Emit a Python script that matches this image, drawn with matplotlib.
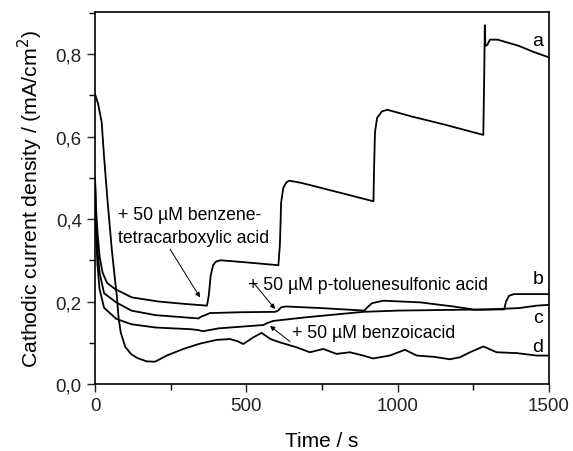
import matplotlib
matplotlib.use("Agg")
import matplotlib.pyplot as plt
from matplotlib.ticker import MultipleLocator

plt.rcParams['font.family'] = ['Liberation Sans', 'DejaVu Sans']

# curve a: benzenetetracarboxylic acid additions
t_a = [0, 3, 8, 15, 25, 40, 67, 122, 210, 300, 370, 376, 382, 390, 400, 415, 450, 530, 606,
       611, 615, 622, 632, 642, 680, 750, 830, 920, 922, 925, 932, 948, 966, 1050, 1150, 1283,
       1286, 1288, 1290, 1296, 1305, 1330, 1400, 1450, 1500]
v_a = [0.50, 0.43, 0.37, 0.31, 0.27, 0.245, 0.230, 0.210, 0.200, 0.194, 0.190, 0.215, 0.262, 0.288, 0.297, 0.300, 0.298, 0.293, 0.288,
       0.34, 0.44, 0.475, 0.489, 0.493, 0.488, 0.475, 0.46, 0.443, 0.52, 0.61, 0.645, 0.661, 0.665, 0.648, 0.63, 0.604,
       0.75, 0.870, 0.82, 0.822, 0.835, 0.835, 0.82, 0.805, 0.792]

# curve b: p-toluenesulfonic acid
t_b = [0, 3, 8, 15, 30, 70, 120, 200, 342, 350, 380, 480, 595, 605, 615, 630, 750, 890,
       900, 915, 953, 1074, 1184, 1239, 1250, 1352, 1358, 1368, 1385, 1500]
v_b = [0.50, 0.40, 0.33, 0.27, 0.22, 0.198, 0.178, 0.167, 0.159, 0.163, 0.172, 0.174, 0.175, 0.178, 0.186, 0.188, 0.184, 0.178,
       0.186, 0.196, 0.202, 0.198, 0.188, 0.182, 0.180, 0.181, 0.200, 0.214, 0.218, 0.218]

# curve c: benzoic acid
t_c = [0, 3, 8, 15, 30, 70, 120, 200, 314, 340, 357, 409, 556, 570, 589, 700, 887, 1000,
       1100, 1200, 1300, 1400, 1459, 1500]
v_c = [0.50, 0.37, 0.29, 0.23, 0.185, 0.158, 0.145, 0.137, 0.133, 0.131, 0.128, 0.135, 0.143, 0.148, 0.153, 0.162, 0.175, 0.178,
       0.179, 0.180, 0.181, 0.184, 0.190, 0.192]

# curve d: reference
t_d = [0, 10, 22, 30, 41, 55, 65, 72, 78, 85, 100, 120, 140, 170, 198, 237, 292, 347, 402, 446,
       470, 490, 523, 550, 580, 611, 666, 710, 754, 798, 842, 886, 919, 974, 1024, 1063, 1118,
       1173, 1206, 1239, 1283, 1327, 1393, 1459, 1500]
v_d = [0.703, 0.68, 0.635, 0.55, 0.448, 0.33, 0.26, 0.214, 0.16, 0.125, 0.09, 0.072, 0.063, 0.055, 0.054, 0.069, 0.085, 0.098, 0.107, 0.109,
       0.104, 0.097, 0.113, 0.124, 0.109, 0.101, 0.089, 0.077, 0.085, 0.073, 0.077, 0.069, 0.062, 0.069, 0.083, 0.069, 0.066,
       0.060, 0.065, 0.077, 0.091, 0.077, 0.075, 0.069, 0.069]

x_ticks = [0, 500, 1000, 1500]
y_ticks = [0.0, 0.2, 0.4, 0.6, 0.8]
y_labels = ['0,0', '0,2', '0,4', '0,6', '0,8']

fig = plt.figure(figsize=(5.73, 4.52), dpi=100)
ax = fig.add_axes([0.1658, 0.1482, 0.7923, 0.823])

for t, v in [(t_a, v_a), (t_b, v_b), (t_c, v_c), (t_d, v_d)]:
    ax.plot(t, v, color='black', lw=1.3)

ax.set_xlim(0, 1500)
ax.set_ylim(0, 0.902)
ax.set_xticks(x_ticks)
ax.set_yticks(y_ticks)
ax.set_yticklabels(y_labels)
ax.xaxis.set_minor_locator(MultipleLocator(250))
ax.yaxis.set_minor_locator(MultipleLocator(0.1))
ax.tick_params(which='major', direction='out', length=6, width=1, labelsize=13.5, colors='#222222')
ax.tick_params(which='minor', direction='out', length=4, width=1)
for s in ax.spines.values():
    s.set_linewidth(1.2)

ax.set_xlabel('Time / s', fontsize=15, labelpad=12)
ax.set_ylabel('Cathodic current density / (mA/cm$^2$)', fontsize=15.3, labelpad=8)

# curve labels
for lab, yv in [('a', 0.832), ('b', 0.255), ('c', 0.162), ('d', 0.092)]:
    ax.text(1464, yv, lab, fontsize=14, ha='center', va='center')

arrow = dict(arrowstyle='-|>', lw=0.7, color='black', mutation_scale=7, shrinkA=0, shrinkB=0)
ax.annotate('+ 50 µM benzene-\ntetracarboxylic acid', xy=(347, 0.210), xytext=(76, 0.383),
            fontsize=12.7, ha='left', va='center', linespacing=1.45)
ax.annotate('', xy=(347, 0.210), xytext=(248, 0.327), arrowprops=arrow)
ax.annotate('+ 50 µM p-toluenesulfonic acid', xy=(595, 0.182), xytext=(505, 0.242),
            fontsize=12.7, ha='left', va='center')
ax.annotate('', xy=(595, 0.182), xytext=(522, 0.247), arrowprops=arrow)
ax.annotate('+ 50 µM benzoicacid', xy=(578, 0.141), xytext=(651, 0.124),
            fontsize=12.7, ha='left', va='center')
ax.annotate('', xy=(578, 0.141), xytext=(644, 0.103), arrowprops=arrow)

fig.savefig('out.png', dpi=100)
